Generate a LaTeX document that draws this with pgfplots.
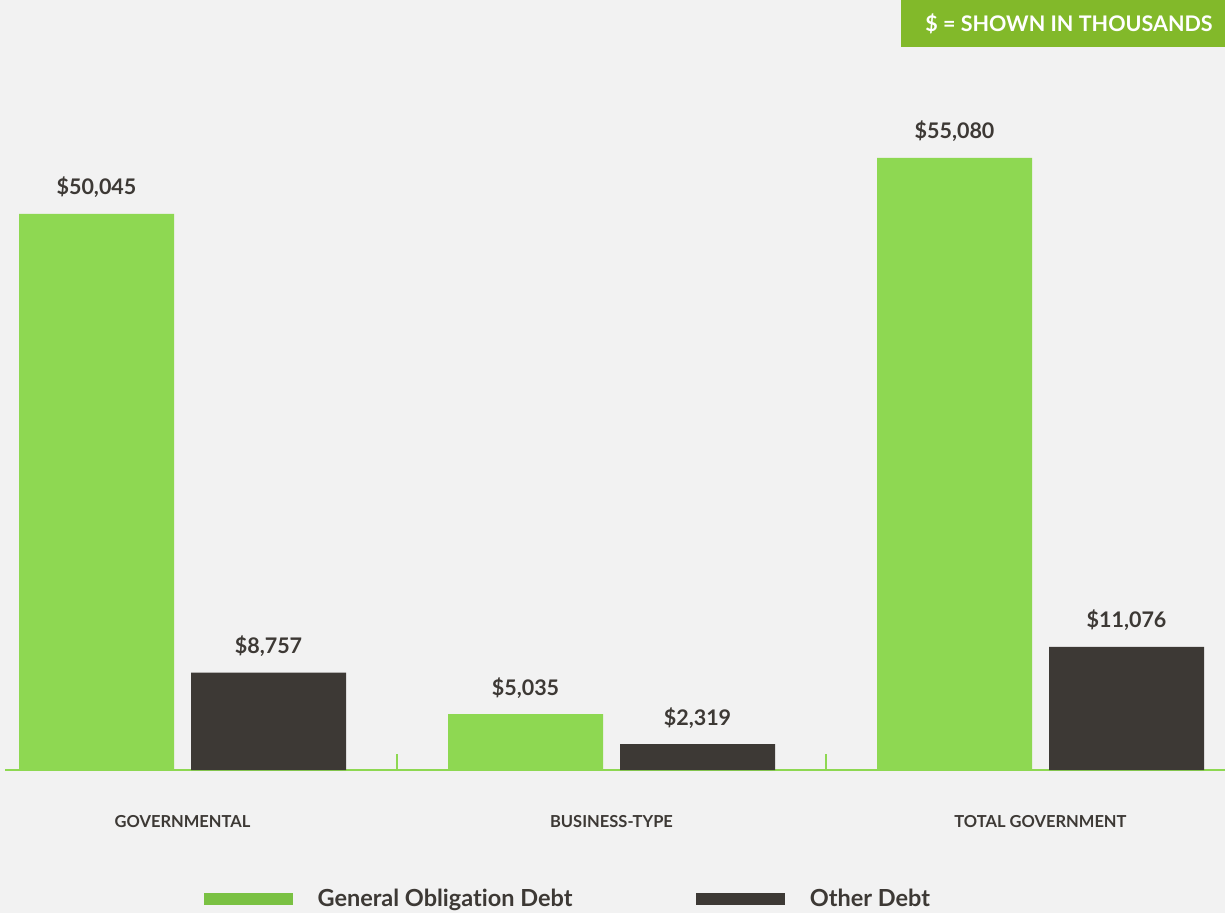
\documentclass[border=0pt]{standalone}
\usepackage{pgfplots}
\pgfplotsset{compat=1.18}
\usepackage{fontspec}
\setmainfont{Lato}[Ligatures={NoCommon}]
\definecolor{bggray}{HTML}{F2F2F2}
\definecolor{bargreen}{HTML}{8ED852}
\definecolor{bardark}{HTML}{3D3935}
\definecolor{leggreen}{HTML}{7AC143}
\definecolor{badge}{HTML}{82B92A}
\definecolor{txt}{HTML}{3D3935}
\begin{document}
\begin{tikzpicture}
\useasboundingbox (0,0) rectangle (1225pt,913pt);
\fill[bggray] (0,0) rectangle (1225pt,913pt);
\fill[badge] (901pt,866pt) rectangle (1225pt,913pt);
\node[text=white, font=\fontsize{21.5}{24}\selectfont\bfseries, anchor=center] at (1069pt,889pt) {\$ = SHOWN IN THOUSANDS};
\begin{axis}[
  at={(5pt,143pt)}, anchor=south west,
  scale only axis, width=1220pt, height=770pt,
  xmin=-0.41375, xmax=2.43007, ymin=0, ymax=69300,
  axis x line=bottom, axis y line=none,
  axis line style={bargreen, line width=1.8pt, -},
  xtick={0,1,2},
  xticklabels={GOVERNMENTAL,BUSINESS-TYPE,TOTAL GOVERNMENT},
  major tick length=0pt,
  xticklabel style={anchor=base, yshift=-57pt, text=txt, font=\fontsize{16.5}{20}\selectfont\bfseries},
  extra x ticks={0.5,1.5},
  extra x tick labels={},
  extra x tick style={major tick length=16pt, tick align=inside, tick style={bargreen, line width=1.2pt}},
  ybar, bar width=155pt,
  point meta=explicit symbolic,
  nodes near coords,
  every node near coord/.append style={anchor=base, inner sep=0pt, yshift=19pt, text=txt, font=\fontsize{21.5}{24}\selectfont\bfseries},
  legend columns=2,
  legend style={at={(0.1631,-0.1675)}, anchor=west, draw=none, fill=none, inner sep=0pt,
    nodes={inner sep=0pt, text=txt, font=\fontsize{23.5}{26}\selectfont\bfseries},
    /tikz/every odd column/.append style={column sep=25pt},
    /tikz/every even column/.append style={column sep=124pt}},
]
\addplot[fill=bargreen, draw=none, bar shift=-86pt, forget plot] coordinates {
  (0,50045) [\$50,045]
  (1,5035) [\$5,035]
  (2,55080) [\$55,080]
};
\addplot[fill=bardark, draw=none, bar shift=86pt, forget plot] coordinates {
  (0,8757) [\$8,757]
  (1,2319) [\$2,319]
  (2,11076) [\$11,076]
};
\addlegendimage{legend image code/.code={\fill[leggreen] (0pt,-5.5pt) rectangle (88pt,5.5pt);}}
\addlegendentry{General Obligation Debt}
\addlegendimage{legend image code/.code={\fill[bardark] (0pt,-5.5pt) rectangle (88pt,5.5pt);}}
\addlegendentry{Other Debt}
\end{axis}
\end{tikzpicture}
\end{document}
